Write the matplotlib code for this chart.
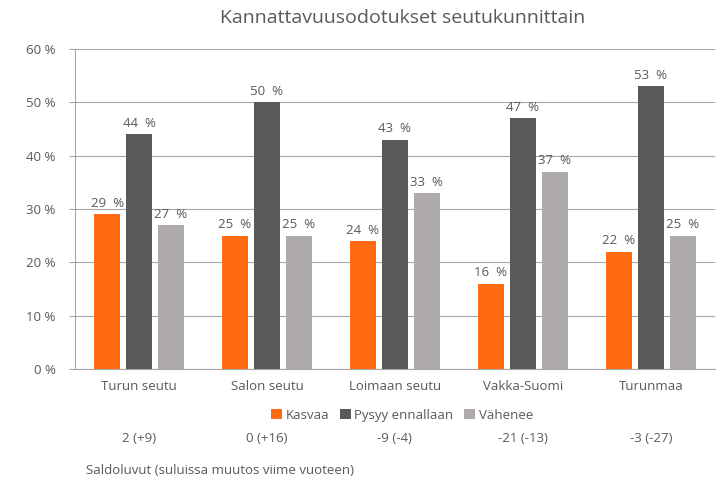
import matplotlib.pyplot as plt
import numpy as np

regions = ['Turun seutu', 'Salon seutu', 'Loimaan seutu', 'Vakka-Suomi', 'Turunmaa']
kasvaa = [29, 25, 24, 16, 22]
pysyy = [44, 50, 43, 47, 53]
vahenee = [27, 25, 33, 37, 25]
saldo = ['2 (+9)', '0 (+16)', '-9 (-4)', '-21 (-13)', '-3 (-27)']
series_names = ['Kasvaa', 'Pysyy ennallaan', 'Vähenee']
colors = ['#FF6A13', '#595959', '#AEAAAA']

plt.rcParams['font.family'] = ['Open Sans', 'DejaVu Sans']
txt = '#595959'

fig = plt.figure(figsize=(7.22, 4.83), dpi=100)
ax = fig.add_axes([0.104, 0.236, 0.886, 0.663])

x = np.arange(len(regions))
w = 0.2
off = 0.25
for vals, dx, c, name in zip([kasvaa, pysyy, vahenee], [-off, 0, off], colors, series_names):
    bars = ax.bar(x + dx, vals, w, color=c, label=name, zorder=3)
    for b, v in zip(bars, vals):
        ax.text(b.get_x() + b.get_width() / 2, v + 0.8, f'{v}  %', ha='center', va='bottom',
                fontsize=9.5, color=txt)

ax.set_xlim(-0.5, len(regions) - 0.5)
ax.set_ylim(0, 60)
ax.set_yticks(range(0, 61, 10))
ax.set_yticklabels([f'{v} %' for v in range(0, 61, 10)], fontsize=9.5, color=txt)
ax.set_xticks(x)
ax.set_xticklabels(regions, fontsize=9.5, color=txt)
ax.tick_params(axis='x', length=0, pad=8)
ax.tick_params(axis='y', length=4, color='#A6A6A6', pad=10)
ax.grid(axis='y', color='#A6A6A6', linewidth=0.8, zorder=0)
for s in ['top', 'right']:
    ax.spines[s].set_visible(False)
ax.spines['left'].set_color('#A6A6A6')
ax.spines['bottom'].set_color('#A6A6A6')

fig.text(0.557, 0.963, 'Kannattavuusodotukset seutukunnittain', ha='center', va='center',
         fontsize=14, color=txt)

leg = fig.legend(loc='center', bbox_to_anchor=(0.557, 0.14), ncol=3, frameon=False,
                 fontsize=9.5, handlelength=0.8, handleheight=0.8, handletextpad=0.3,
                 columnspacing=0.8)
for t in leg.get_texts():
    t.set_color(txt)

for xi, s in zip(x, saldo):
    xf = ax.transData.transform((xi, 0))[0] / fig.bbox.width
    fig.text(xf, 0.093, s, ha='center', va='center', fontsize=9.5, color=txt)

fig.text(0.119, 0.025, 'Saldoluvut (suluissa muutos viime vuoteen)', ha='left', va='center',
         fontsize=9.5, color=txt)

fig.savefig('out.png', dpi=100)
